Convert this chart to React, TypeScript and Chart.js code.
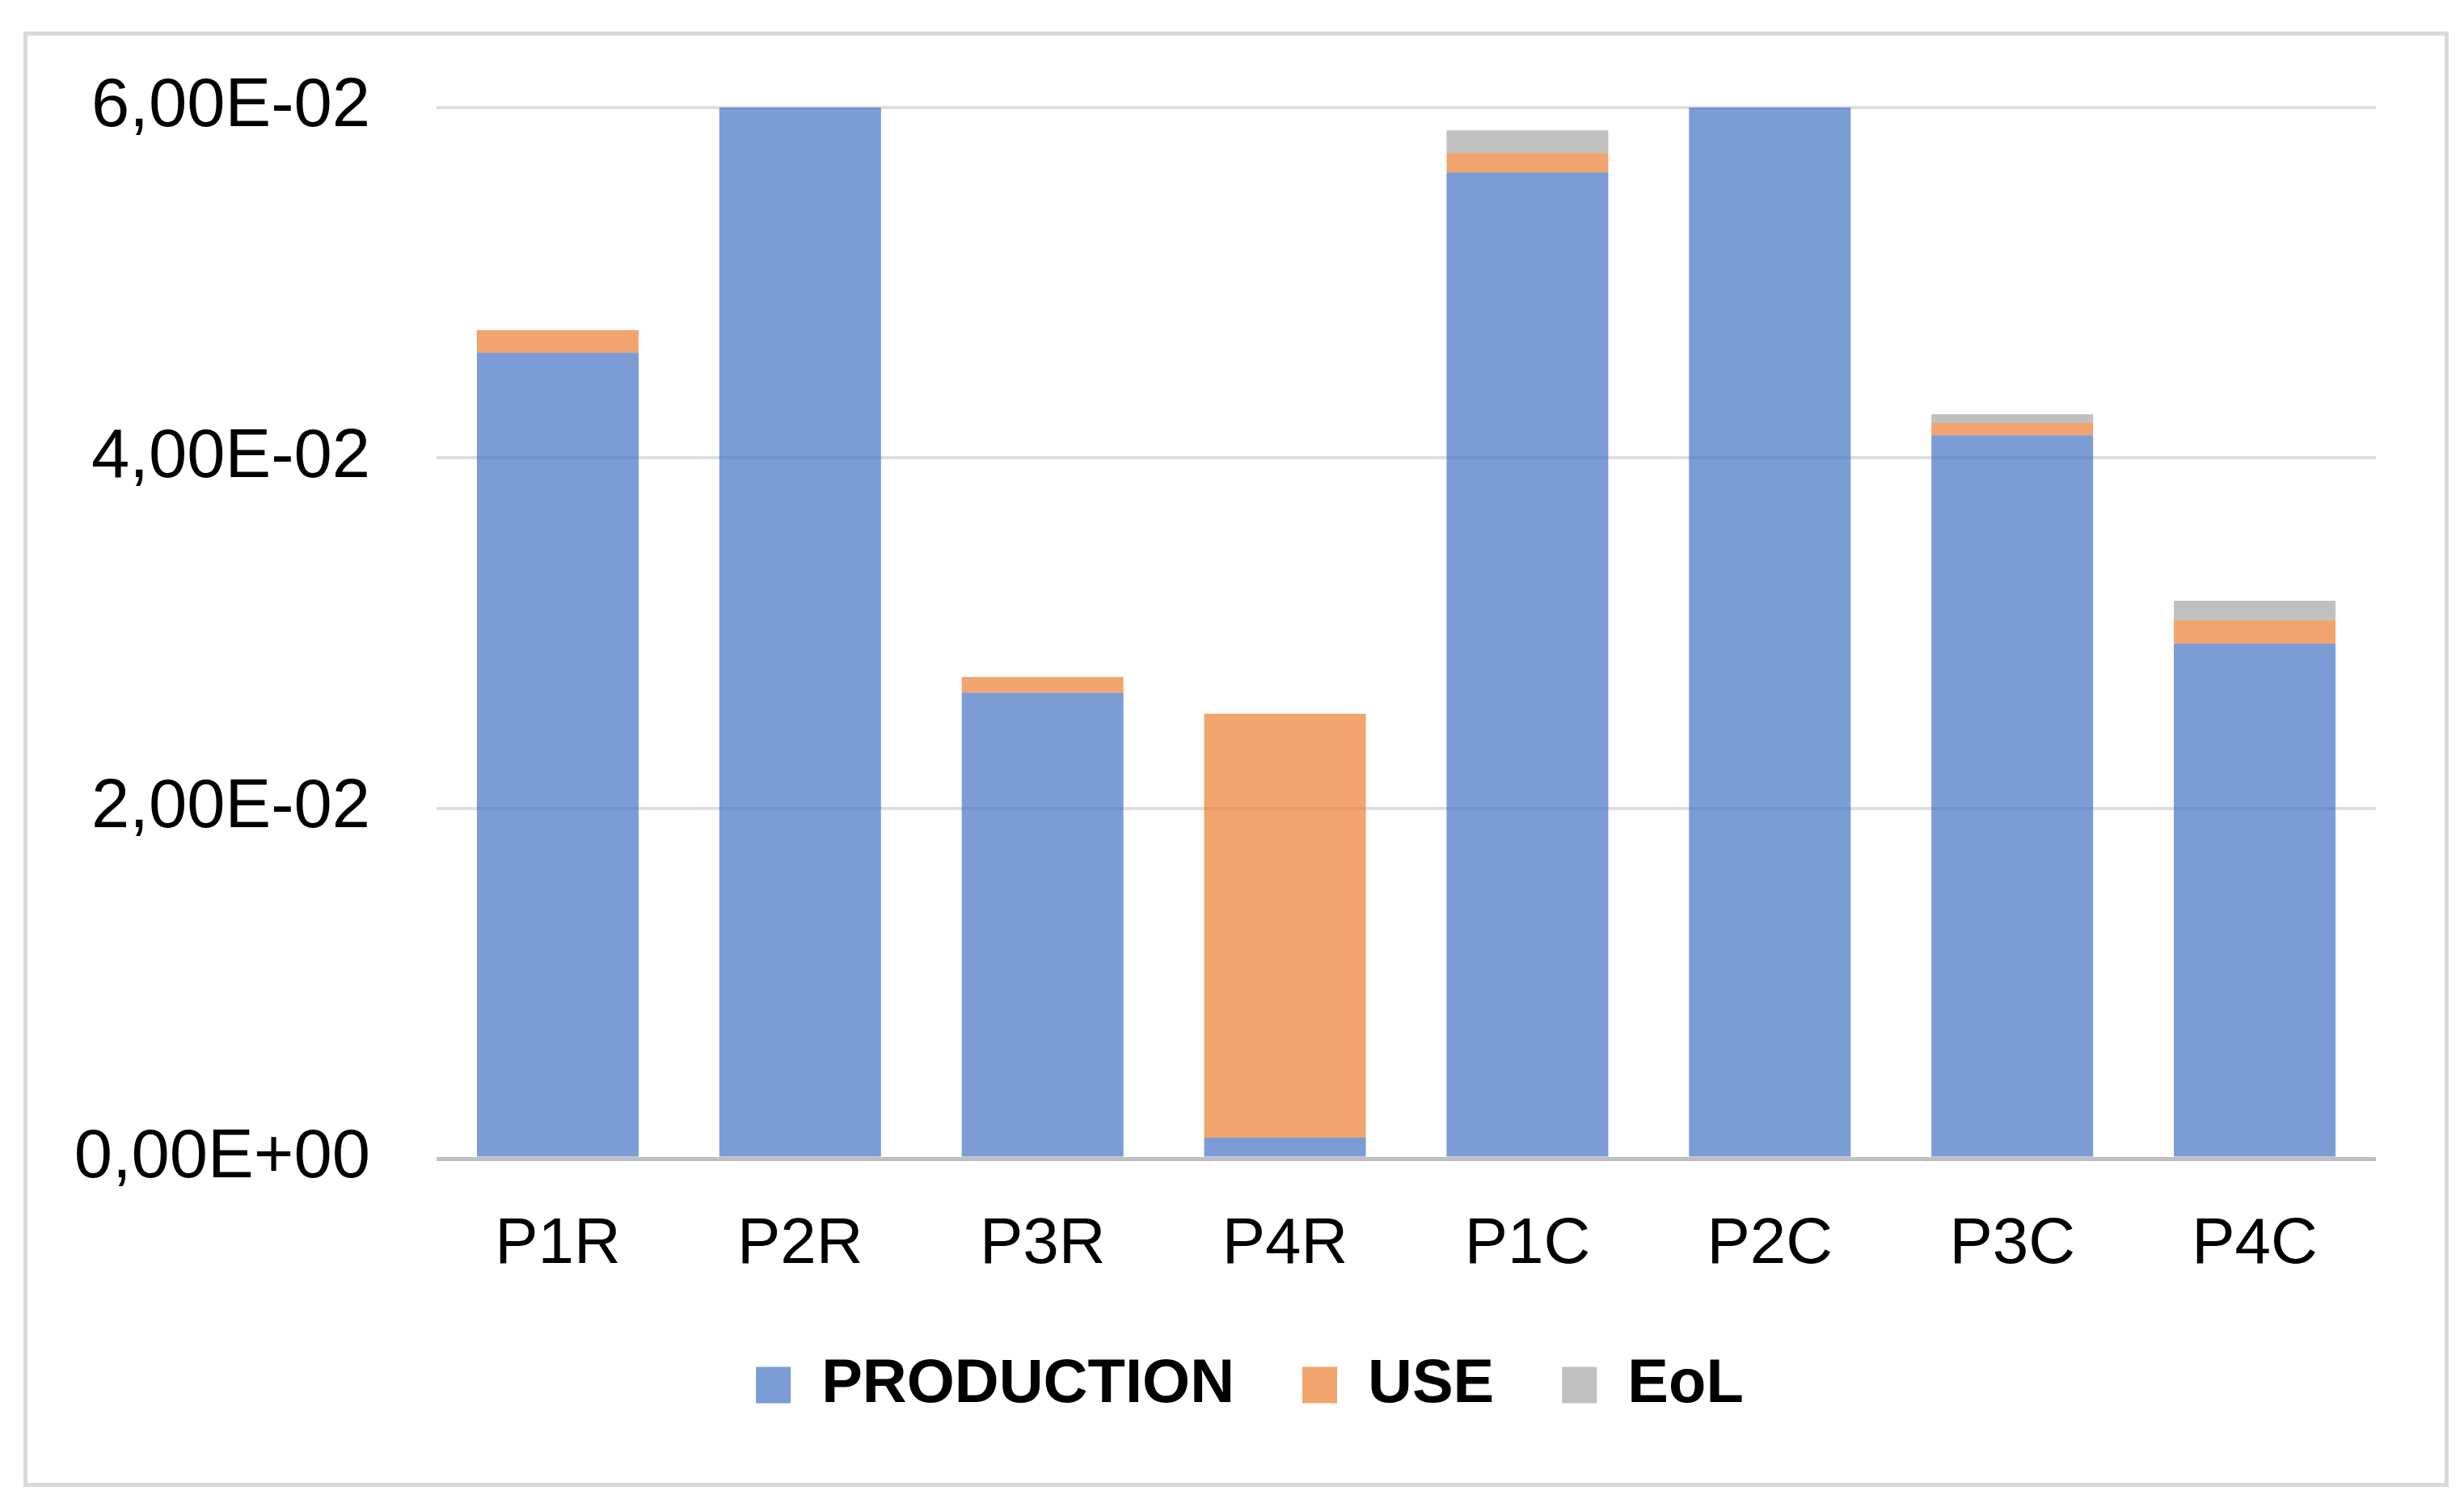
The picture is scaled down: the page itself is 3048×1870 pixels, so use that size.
import React, { useEffect, useRef } from "react";
import { Chart, registerables } from "chart.js";

Chart.register(...registerables);

const categories = ["P1R", "P2R", "P3R", "P4R", "P1C", "P2C", "P3C", "P4C"];
const production = [0.0460, 0.0600, 0.0266, 0.0012, 0.0563, 0.0600, 0.0413, 0.0294];
const use = [0.0013, 0.0, 0.0009, 0.0242, 0.0011, 0.0, 0.0007, 0.00135];
const eol = [0.0, 0.0, 0.0, 0.0, 0.0013, 0.0, 0.0005, 0.0011];
const seriesNames = ["PRODUCTION", "USE", "EoL"];
const yTicks = [0, 0.02, 0.04, 0.06];

const FONT = "'Liberation Sans', Arial, sans-serif";

function fmtSci(v: number): string {
  if (Math.abs(v) < 1e-12) return "0,00E+00";
  const s = v.toExponential(2);
  const [mant, exp] = s.split("e");
  const e = parseInt(exp, 10);
  const sign = e < 0 ? "-" : "+";
  const mag = String(Math.abs(e)).padStart(2, "0");
  return mant.replace(".", ",") + "E" + sign + mag;
}

const legendShift = {
  id: "legendShift",
  afterLayout(chart: any) {
    if (chart.legend) {
      chart.legend.left = 153;
    }
  },
};

export default function App() {
  const ref = useRef<HTMLCanvasElement | null>(null);

  useEffect(() => {
    if (!ref.current) return;
    const chart = new Chart(ref.current, {
      type: "bar",
      data: {
        labels: categories,
        datasets: [
          { label: seriesNames[0], data: production, backgroundColor: "rgba(68,114,196,0.7)" },
          { label: seriesNames[1], data: use, backgroundColor: "rgba(237,125,49,0.7)" },
          { label: seriesNames[2], data: eol, backgroundColor: "rgba(165,165,165,0.7)" },
        ],
      },
      plugins: [legendShift],
      options: {
        animation: false,
        responsive: false,
        maintainAspectRatio: false,
        devicePixelRatio: 1,
        datasets: { bar: { categoryPercentage: 1, barPercentage: 0.667, borderWidth: 0 } },
        layout: { padding: { left: 0, top: 132, right: 109, bottom: 109 } },
        plugins: {
          tooltip: { enabled: false },
          legend: {
            position: "bottom",
            labels: {
              boxWidth: 43,
              boxHeight: 45,
              padding: 84,
              color: "#000",
              font: { family: FONT, size: 76, weight: "bold" },
            },
          },
        },
        scales: {
          x: {
            stacked: true,
            grid: { display: false, drawTicks: false },
            border: { display: false },
            ticks: { color: "#000", padding: 59, font: { family: FONT, size: 80 } },
            afterFit: (s: any) => { s.height = 158; },
          },
          y: {
            stacked: true,
            min: 0,
            max: 0.06,
            afterBuildTicks: (s: any) => { s.ticks = yTicks.map((v) => ({ value: v })); },
            grid: {
              drawTicks: false,
              color: (c: any) => (c.tick && c.tick.value === 0 ? "#bfbfbf" : "#dedede"),
              lineWidth: (c: any) => (c.tick && c.tick.value === 0 ? 5 : 4),
            },
            border: { display: false },
            ticks: {
              color: "#000",
              padding: 82,
              font: { family: FONT, size: 85 },
              callback: (v: any) => fmtSci(Number(v)),
            },
            afterFit: (s: any) => { s.width = 540; },
          },
        },
      },
    });
    return () => chart.destroy();
  }, []);

  return (
    <div style={{ position: "fixed", left: 0, top: 0, width: 3048, height: 1870, background: "#fff", overflow: "hidden" }}>
      <canvas ref={ref} width={3048} height={1870} style={{ position: "absolute", left: 0, top: 0, width: 3048, height: 1870 }} />
      <div
        style={{
          position: "absolute",
          left: 29,
          top: 39,
          width: 3000,
          height: 1800,
          border: "5px solid #d9d9d9",
          boxSizing: "border-box",
          pointerEvents: "none",
        }}
      />
    </div>
  );
}
